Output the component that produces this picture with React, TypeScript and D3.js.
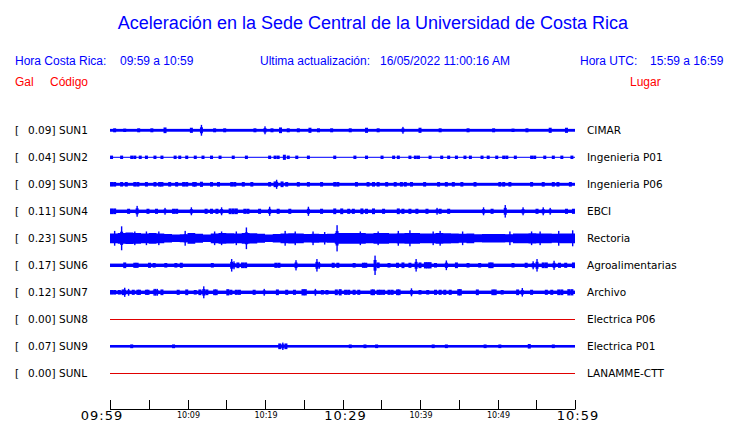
import React from 'react';
import * as d3 from 'd3';

const W = 740;
const H = 423;

const titleText = 'Aceleración en la Sede Central de la Universidad de Costa Rica';
const stations = ['SUN1', 'SUN2', 'SUN3', 'SUN4', 'SUN5', 'SUN6', 'SUN7', 'SUN8', 'SUN9', 'SUNL'];
const places = ['CIMAR', 'Ingenieria P01', 'Ingenieria P06', 'EBCI', 'Rectoria', 'Agroalimentarias', 'Archivo', 'Electrica P06', 'Electrica P01', 'LANAMME-CTT'];
const peaks = [0.09, 0.04, 0.09, 0.11, 0.23, 0.17, 0.12, 0.0, 0.07, 0.0];
// background (noise) half-amplitude in Gal
const baseLevel = [0.025, 0.009, 0.026, 0.03, 0, 0.03, 0.03, 0, 0.023, 0];

// minutes after 09:59 for time ticks
const tickMinutes = [0, 5, 10, 15, 20, 25, 30, 35, 40, 45, 50, 55, 60];
const tickLabels = ['09:59', '', '10:09', '', '10:19', '', '10:29', '', '10:39', '', '10:49', '', '10:59'];
const majorLabels = ['09:59', '10:29', '10:59'];

// events: [minute, half-amplitude Gal]
const sun1Events = [
  [0.6, 0.035], [1.9, 0.03], [3.7, 0.035], [5.4, 0.035], [7.1, 0.05], [10.5, 0.045], [11.8, 0.095],
  [13.5, 0.035], [14.8, 0.035], [18.7, 0.035], [20, 0.07], [20.9, 0.035], [22, 0.05], [23, 0.035],
  [24.3, 0.035], [25.8, 0.045], [26.9, 0.035], [28.6, 0.035], [31, 0.035], [33.1, 0.045], [34.6, 0.035],
  [37.8, 0.06], [40, 0.045], [42.6, 0.035], [46.2, 0.035], [49.5, 0.035], [52, 0.03], [53.8, 0.035],
  [56.8, 0.045], [58.9, 0.045],
];
const sun2Events = [
  [0.2, 0.03], [1.5, 0.03], [2.8, 0.03], [3.2, 0.03], [3.9, 0.03], [4.7, 0.03], [5.8, 0.03], [6.7, 0.03],
  [8.4, 0.03], [9, 0.03], [9.9, 0.03], [11, 0.03], [12, 0.03], [13.1, 0.03], [14.2, 0.03], [15.9, 0.03],
  [17.6, 0.03], [20.6, 0.03], [21.3, 0.03], [21.7, 0.03], [22.5, 0.045], [23, 0.03], [24.1, 0.03],
  [25.6, 0.03], [29, 0.03], [31.6, 0.03], [33.1, 0.03], [35.1, 0.03], [36.6, 0.03], [37.2, 0.03],
  [38.7, 0.03], [39.4, 0.03], [39.8, 0.03], [41.3, 0.03], [42.8, 0.03], [43.7, 0.03], [44.7, 0.03],
  [45.8, 0.03], [46.5, 0.03], [48, 0.03], [48.8, 0.03], [49.9, 0.03], [50.8, 0.03], [51.2, 0.03],
  [52.3, 0.03], [54.4, 0.03], [54.8, 0.03], [56.1, 0.03], [57.2, 0.03], [58.3, 0.03], [59.6, 0.03],
];
const sun3Events = [
  [0.2, 0.04], [0.6, 0.04], [1.5, 0.04], [2.1, 0.04], [3.2, 0.04], [3.6, 0.04], [4.7, 0.04], [5.8, 0.04],
  [6.4, 0.04], [6.7, 0.04], [7.7, 0.04], [8.6, 0.04], [9.5, 0.04], [9.9, 0.04], [10.8, 0.04], [11, 0.04],
  [11.8, 0.045], [13.1, 0.04], [14, 0.04], [15.7, 0.04], [16.1, 0.04], [17.2, 0.04], [18.3, 0.04],
  [20.6, 0.04], [21.3, 0.05], [21.5, 0.08], [22.2, 0.05], [22.8, 0.04], [24.3, 0.04], [25.6, 0.04],
  [27.3, 0.04], [29, 0.04], [29.4, 0.04], [31.8, 0.04], [33.3, 0.04], [34, 0.04], [34.6, 0.04],
  [35.7, 0.04], [36.8, 0.04], [37.6, 0.04], [38.1, 0.04], [38.9, 0.04], [40.6, 0.04], [42.4, 0.04],
  [43.4, 0.04], [44.3, 0.04], [45.4, 0.04], [47.1, 0.04], [50.3, 0.04], [50.8, 0.04], [51.6, 0.04],
  [54.4, 0.04], [55.9, 0.04], [57.2, 0.04], [57.8, 0.04], [59.4, 0.04],
];
const sun4Events = [
  [0.2, 0.05], [0.6, 0.05], [2.4, 0.045], [3.5, 0.095], [4.9, 0.045], [6, 0.045], [7.1, 0.06], [8.2, 0.045],
  [8.6, 0.045], [10.5, 0.07], [12.4, 0.045], [13.1, 0.045], [13.8, 0.045], [14.4, 0.07], [15.5, 0.05],
  [15.9, 0.05], [16.3, 0.05], [17.4, 0.045], [17.8, 0.045], [19.3, 0.045], [20.6, 0.08], [21.7, 0.045],
  [23.2, 0.045], [25.6, 0.08], [27.3, 0.045], [29, 0.05], [29.9, 0.05], [30.8, 0.045], [31.4, 0.045],
  [32.5, 0.05], [33.1, 0.045], [34, 0.05], [35.3, 0.045], [37.2, 0.05], [37.8, 0.045], [38.7, 0.045],
  [39.6, 0.045], [40.9, 0.045], [42.2, 0.06], [42.6, 0.045], [43.7, 0.045], [48.2, 0.07], [49.3, 0.045],
  [51, 0.11], [53.3, 0.07], [55.1, 0.045], [55.9, 0.07], [56.8, 0.06], [58.9, 0.045], [59.8, 0.045],
];
const sun5Envelope = [
  0.085, 0.095, 0.1, 0.095, 0.085, 0.095, 0.085, 0.075, 0.065, 0.07, 0.095, 0.08, 0.065, 0.085, 0.095,
  0.09, 0.085, 0.095, 0.09, 0.08, 0.065, 0.075, 0.085, 0.09, 0.085, 0.075, 0.08, 0.075, 0.08, 0.095,
  0.095, 0.095, 0.095, 0.085, 0.095, 0.095, 0.085, 0.09, 0.095, 0.095, 0.085, 0.085, 0.095, 0.09, 0.085,
  0.08, 0.085, 0.07, 0.075, 0.075, 0.075, 0.07, 0.085, 0.085, 0.09, 0.085, 0.085, 0.08, 0.085, 0.085,
  0.085,
];
const sun5Events = [
  [0.6, 0.13], [1.5, 0.21], [3.2, 0.12], [4.7, 0.12], [6.3, 0.12], [9.7, 0.13], [13.5, 0.12], [14.4, 0.12],
  [16.3, 0.12], [17.6, 0.19], [22.6, 0.13], [23.9, 0.12], [26.2, 0.12], [27.7, 0.11], [29.3, 0.23],
  [32.3, 0.12], [34.6, 0.12], [37.2, 0.13], [38.7, 0.14], [41.7, 0.12], [42.6, 0.13], [45.5, 0.12],
  [51.6, 0.12], [54.4, 0.12], [55.5, 0.12], [57.9, 0.13], [59.7, 0.14],
];
const sun6Events = [
  [1.9, 0.05], [3.2, 0.045], [3.5, 0.045], [5.1, 0.045], [5.7, 0.04], [7.2, 0.04], [8.5, 0.04], [9.2, 0.045],
  [13.2, 0.04], [15.7, 0.11], [16, 0.07], [16.5, 0.05], [17.1, 0.05], [17.5, 0.05], [21.4, 0.045],
  [21.8, 0.045], [24, 0.09], [26.7, 0.11], [27, 0.06], [28.8, 0.045], [29.4, 0.045], [31.5, 0.04],
  [32.7, 0.045], [33, 0.045], [34.2, 0.17], [34.6, 0.05], [36, 0.04], [37.1, 0.045], [37.8, 0.05],
  [38.7, 0.045], [39.5, 0.11], [40, 0.05], [40.7, 0.055], [41, 0.055], [41.3, 0.055], [42, 0.04],
  [43.4, 0.085], [44.7, 0.05], [46.2, 0.04], [47.7, 0.04], [49, 0.05], [49.3, 0.05], [52, 0.04],
  [53.7, 0.045], [54.6, 0.07], [55.1, 0.11], [55.9, 0.05], [56.3, 0.05], [57.3, 0.08], [58, 0.045],
  [58.8, 0.045], [59.8, 0.05],
];
const sun7Events = [
  [0.2, 0.04], [0.6, 0.04], [1.2, 0.04], [1.7, 0.05], [1.9, 0.08], [2.4, 0.06], [3, 0.045], [3.6, 0.045],
  [3.8, 0.045], [4.7, 0.045], [4.9, 0.045], [5.7, 0.06], [5.9, 0.06], [6.1, 0.06], [6.7, 0.05], [8.8, 0.045],
  [9.9, 0.05], [11, 0.04], [11.6, 0.05], [12.1, 0.105], [12.5, 0.05], [13.5, 0.05], [13.7, 0.05],
  [15.2, 0.055], [15.6, 0.045], [16.3, 0.045], [16.7, 0.045], [18.6, 0.045], [19.9, 0.06], [21.6, 0.05],
  [22.8, 0.045], [23.8, 0.045], [24.9, 0.055], [25.2, 0.055], [26.5, 0.06], [27.4, 0.04], [28, 0.04],
  [29.2, 0.05], [29.7, 0.055], [30.4, 0.045], [30.8, 0.045], [31.5, 0.045], [32.1, 0.045], [33.8, 0.05],
  [34, 0.05], [34.6, 0.045], [34.9, 0.045], [35.3, 0.045], [36, 0.045], [36.4, 0.045], [37.1, 0.05],
  [37.3, 0.05], [38.9, 0.07], [40, 0.04], [41, 0.04], [42, 0.045], [42.6, 0.045], [43.2, 0.045],
  [43.9, 0.045], [45, 0.055], [45.2, 0.055], [47.4, 0.05], [49.4, 0.05], [49.7, 0.05], [50.6, 0.04],
  [52.6, 0.05], [53.2, 0.075], [54.4, 0.045], [56.3, 0.045], [57, 0.045], [57.9, 0.05], [58.3, 0.05],
  [59.2, 0.055], [59.6, 0.055],
];
const sun8Events: number[][] = [];
const sun9Events = [
  [2.8, 0.033], [8.2, 0.033], [21.9, 0.05], [22.3, 0.065], [22.7, 0.05], [31, 0.032], [32.9, 0.032],
  [34.4, 0.032], [41.7, 0.032], [43.4, 0.032], [48.4, 0.032], [50.3, 0.032], [54.1, 0.04], [57.2, 0.032],
];
const sunLEvents: number[][] = [];

const stationEvents = [sun1Events, sun2Events, sun3Events, sun4Events, sun5Events, sun6Events, sun7Events, sun8Events, sun9Events, sunLEvents];

const BLUE = '#0000ff';
const RED = '#ff0000';
const LINE_RED = '#e00000';
const SANS = "'Liberation Sans', Arial, sans-serif";
const DEJA = "'DejaVu Sans', sans-serif";

export default function App() {
  const x = d3.scaleLinear().domain([0, 60]).range([110, 575]);
  const y = d3.scalePoint<string>().domain(stations).range([130.3, 373.3]);
  const a = d3.scaleLinear().domain([0, 0.25]).range([0, 14.25]);

  const envArea = (cy: number) =>
    d3
      .area<number>()
      .x((_, i) => x(i))
      .y0((d) => cy - a(d))
      .y1((d) => cy + a(d))
      .curve(d3.curveStepAfter)(sun5Envelope) || '';

  return (
    <svg width={W} height={H} style={{ position: 'absolute', left: 0, top: 0, background: '#fff' }}>
      <rect width={W} height={H} fill="#fff" />
      <text x={373} y={29} textAnchor="middle" fill={BLUE} fontFamily={SANS} fontSize={18}>
        {titleText}
      </text>
      <g fontFamily={SANS} fontSize={12} fill={BLUE}>
        <text x={15} y={65}>Hora Costa Rica:</text>
        <text x={120} y={65}>09:59 a 10:59</text>
        <text x={260} y={65}>Ultima actualización:</text>
        <text x={380} y={65}>16/05/2022 11:00:16 AM</text>
        <text x={580} y={65}>Hora UTC:</text>
        <text x={650} y={65}>15:59 a 16:59</text>
      </g>
      <g fontFamily={SANS} fontSize={12} fill={RED}>
        <text x={15} y={86}>Gal</text>
        <text x={50} y={86}>Código</text>
        <text x={630} y={86}>Lugar</text>
      </g>

      {stations.map((s, i) => {
        const cy = y(s) as number;
        const ev = stationEvents[i];
        const quiet = peaks[i] === 0;
        return (
          <g key={s}>
            <g fontFamily={DEJA} fontSize={10.5} fill="#000">
              <text x={15} y={cy + 4}>[</text>
              <text x={55.5} y={cy + 4} textAnchor="end">{peaks[i].toFixed(2)}]</text>
              <text x={59} y={cy + 4}>{s}</text>
              <text x={587} y={cy + 4}>{places[i]}</text>
            </g>
            {quiet ? (
              <line
                x1={x(0)}
                x2={x(60)}
                y1={Math.floor(cy) + 0.5}
                y2={Math.floor(cy) + 0.5}
                stroke={LINE_RED}
                strokeWidth={1}
                shapeRendering="crispEdges"
              />
            ) : (
              <g fill={BLUE}>
                {s === 'SUN5' ? (
                  <path d={envArea(cy)} />
                ) : (
                  <rect
                    x={x(0)}
                    width={x(60) - x(0)}
                    y={cy - Math.max(a(baseLevel[i]), 0.5)}
                    height={Math.max(2 * a(baseLevel[i]), 1)}
                  />
                )}
                {ev.map(([m, amp], j) => {
                  const big = amp >= 0.06;
                  const h = a(amp);
                  return (
                    <g key={j}>
                      <rect x={x(m) - (big ? 0.7 : 1.5)} width={big ? 1.4 : 3} y={cy - h} height={2 * h} />
                      {big && <rect x={x(m) - 1.5} width={3} y={cy - h * 0.55} height={2 * h * 0.55} />}
                    </g>
                  );
                })}
              </g>
            )}
          </g>
        );
      })}

      <g stroke="#000" strokeWidth={1} fill="none">
        <line x1={x(0)} x2={x(60)} y1={409.5} y2={409.5} />
        {tickMinutes.map((m) => (
          <line key={m} x1={Math.round(x(m)) + 0.5} x2={Math.round(x(m)) + 0.5} y1={400} y2={409.5} />
        ))}
      </g>
      <g fontFamily={DEJA} fill="#000">
        {tickMinutes.map((m, i) => {
          const lab = tickLabels[i];
          if (!lab) return null;
          const major = majorLabels.includes(lab);
          const dx = major ? (i === 0 ? -8 : 3) : 1;
          return (
            <text
              key={m}
              x={x(m) + dx}
              y={major ? 420 : 418}
              textAnchor="middle"
              fontSize={major ? 13 : 8}
              letterSpacing={major ? 1 : 0}
            >
              {lab}
            </text>
          );
        })}
      </g>
    </svg>
  );
}
